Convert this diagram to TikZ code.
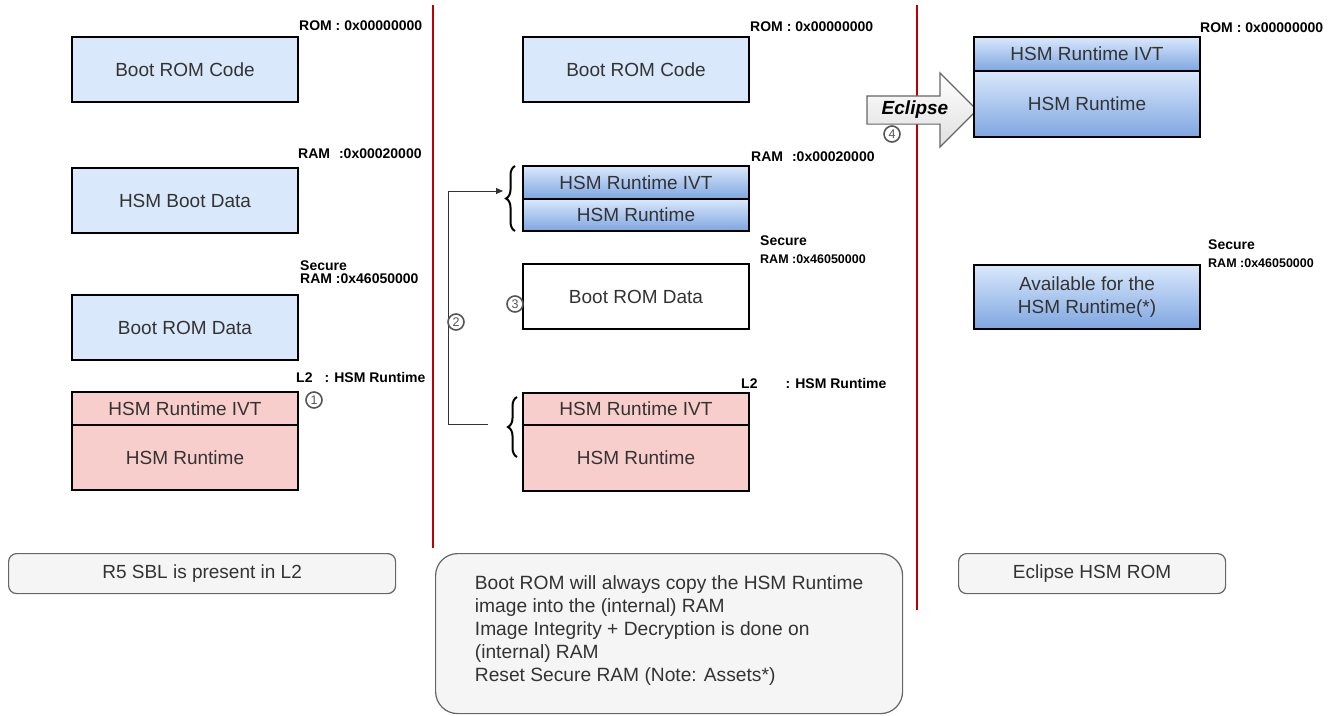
\documentclass[tikz,border=0pt]{standalone}
\usepackage{fontspec}
\setmainfont{Liberation Sans}
\usetikzlibrary{positioning, shapes.arrows, decorations.pathreplacing, arrows.meta}

\definecolor{memblue}{HTML}{DAE8FC}
\definecolor{memdeep}{HTML}{7EA6E0}
\definecolor{mempink}{HTML}{F8CECC}
\definecolor{divred}{HTML}{C00000}
\definecolor{notegray}{HTML}{F5F5F5}
\definecolor{noteline}{HTML}{666666}
\definecolor{txt}{HTML}{333333}
\definecolor{numgray}{HTML}{555555}

\tikzset{
	mem/.style={draw, line width=2pt, outer sep=0pt, minimum width=226pt, anchor=north west, text=txt, font=\fontsize{19}{23}\selectfont},
	memplain/.style={mem, fill=memblue},
	memshade/.style={mem, top color=memblue, bottom color=memdeep},
	meml2/.style={mem, fill=mempink},
	addr/.style={anchor=base west, inner sep=0pt, font=\bfseries\fontsize{14}{16}\selectfont},
	addrsmall/.style={addr, font=\bfseries\fontsize{12.5}{14}\selectfont},
	stepnum/.style={circle, draw=numgray, fill=white, line width=1.6pt, inner sep=0pt, minimum size=16pt, text=numgray, font=\fontsize{12.5}{12.5}\selectfont},
	note/.style={draw=noteline, line width=1.2pt, fill=notegray, rounded corners=8pt, anchor=north west, text=txt, font=\fontsize{19}{23}\selectfont},
	divider/.style={divred, line width=2.5pt},
	curly/.style={decorate, decoration={brace, amplitude=9pt}, line width=2pt},
	link/.style={draw=txt, line width=1pt, -{Triangle[length=7pt, width=6pt]}}
}

\begin{document}
\begin{tikzpicture}[x=1pt, y=-1pt]
	\useasboundingbox (0,0) rectangle (1338,715);

	\node (romA) [memplain, minimum height=65pt] at (72,37) {Boot ROM Code};
	\node (bootdataA) [memplain, minimum height=65pt] at (72,168) {HSM Boot Data};
	\node (romdataA) [memplain, minimum height=65pt] at (72,295) {Boot ROM Data};
	\node (ivtA) [meml2, minimum height=33pt] at (72,392) {HSM Runtime IVT};
	\node (rtA) [meml2, minimum height=65pt, below=0pt of ivtA] {HSM Runtime};

	\node (romlabA) [addr] at (299,30) {ROM : 0x00000000};
	\node (ramlabA) [addr] at (298,158) {RAM\hspace{9pt}:0x00020000};
	\node (seclabA) [addr] at (300,270) {Secure};
	\node (secramA) [addr] at (300,283) {RAM :0x46050000};
	\node (l2labA) [addr] at (296,382) {L2\hspace{12pt}: HSM Runtime};
	\node (numA) [stepnum] at (314,400) {1};

	\draw[divider] (433,5) -- (433,548);

	\node (romB) [memplain, minimum height=65pt] at (523,37) {Boot ROM Code};
	\node (ivtB) [memshade, minimum height=33pt] at (523,166) {HSM Runtime IVT};
	\node (rtB) [memshade, minimum height=32pt, below=0pt of ivtB] {HSM Runtime};
	\node (romdataB) [mem, fill=white, minimum height=65pt] at (523,264) {Boot ROM Data};
	\node (ivtC) [meml2, minimum height=32pt] at (523,393) {HSM Runtime IVT};
	\node (rtC) [meml2, minimum height=66pt, below=0pt of ivtC] {HSM Runtime};

	\node (romlabB) [addr] at (750,31) {ROM : 0x00000000};
	\node (ramlabB) [addr] at (751,161) {RAM\hspace{9pt}:0x00020000};
	\node (seclabB) [addr] at (760,245) {Secure};
	\node (secramB) [addrsmall] at (760,263) {RAM :0x46050000};
	\node (l2labB) [addr] at (741,388) {L2\hspace{28pt}: HSM Runtime};

	\draw[curly] ([xshift=-8pt]rtB.south west) -- ([xshift=-8pt]ivtB.north west);
	\draw[curly] (517,457) -- (517,397);
	\coordinate (fromC) at (488,424);
	\coordinate (toB) at (503,191);
	\draw[link] (fromC) -- ++(-40,0) |- (toB);
	\node (numB) [stepnum] at (456,322) {2};
	\node (numC) [stepnum] at (515,304) {3};

	\draw[divider] (917,5) -- (917,610);

	\node (eclipse) [single arrow, draw=noteline, line width=1.2pt, top color=white, bottom color=gray!25,
		single arrow head extend=23pt, minimum height=110pt, inner xsep=2pt, inner ysep=5pt,
		text height=13pt, text depth=4pt, font=\bfseries\itshape\fontsize{19}{23}\selectfont] at (915,110) {Eclipse};
	\node (numD) [stepnum] at (892,134) {4};

	\node (ivtD) [memshade, minimum height=34pt] at (974,37) {HSM Runtime IVT};
	\node (rtD) [memshade, minimum height=66pt, below=0pt of ivtD] {HSM Runtime};
	\node (availD) [memshade, minimum height=64pt, align=center] at (974,265) {Available for the\\HSM Runtime(*)};

	\node (romlabD) [addr] at (1200,32) {ROM : 0x00000000};
	\node (seclabD) [addr] at (1208,249) {Secure};
	\node (secramD) [addrsmall] at (1208,267) {RAM :0x46050000};

	\node (noteA) [note, minimum width=387pt, minimum height=40pt] at (8,553) {R5 SBL is present in L2};
	\node (noteB) [note, rounded corners=22pt, minimum width=467pt, minimum height=160pt, align=left,
		font=\fontsize{19.2}{23}\selectfont] at (435,553) {Boot ROM will always copy the HSM Runtime\\image into the (internal) RAM\\Image Integrity + Decryption is done on\\(internal) RAM\\Reset Secure RAM (Note: Assets*)\\[-13pt]};
	\node (noteC) [note, minimum width=267pt, minimum height=40pt] at (958,553) {Eclipse HSM ROM};
\end{tikzpicture}
\end{document}
